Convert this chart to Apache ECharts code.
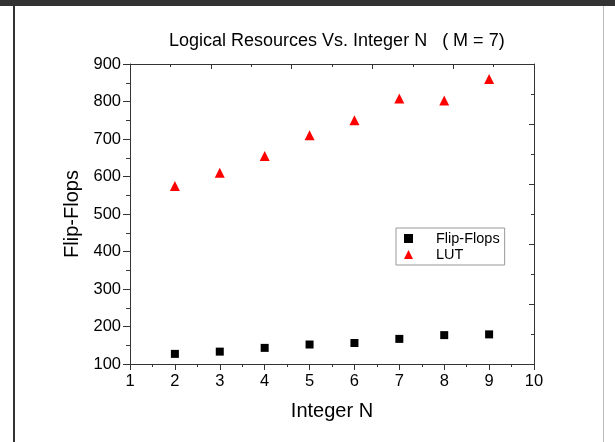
<!DOCTYPE html>
<html>
<head>
<meta charset="utf-8">
<script src="https://cdn.jsdelivr.net/npm/echarts@6/dist/echarts.min.js"></script>
<style>
  html, body { margin: 0; padding: 0; background: #fff; }
  #chart { width: 615px; height: 442px; }
</style>
</head>
<body>
<div id="chart"></div>
<script>
// 数据
const nValues = [2, 3, 4, 5, 6, 7, 8, 9];
const flipFlops = [127, 133, 143, 152, 156, 167, 177, 179];
const lut = [575, 610, 655, 710, 750, 808, 803, 860];
const xTicks = [1, 2, 3, 4, 5, 6, 7, 8, 9, 10];
const yTicks = [100, 200, 300, 400, 500, 600, 700, 800, 900];

const font = 'Liberation Sans, Arial, sans-serif';
const chart = echarts.init(document.getElementById('chart'));

const pairs = (ys) => nValues.map((n, i) => [n, ys[i]]);

// 上/右 装饰坐标轴 (10 等分)
const frameAxis = (pos) => ({
    position: pos,
    type: 'value',
    min: 0,
    max: 10,
    interval: 2,
    axisLine: { show: true, onZero: false, lineStyle: { color: '#333', width: 1 } },
    axisTick: { show: true, inside: true, length: 5, lineStyle: { color: '#333' } },
    minorTick: { show: true, splitNumber: 2, length: 3, lineStyle: { color: '#333' } },
    axisLabel: { show: false },
    splitLine: { show: false }
});

const option = {
    animation: false,
    textStyle: { fontFamily: font },
    title: {
        text: 'Logical Resources Vs. Integer N   ( M = 7)',
        left: 164,
        top: 27,
        textStyle: { fontSize: 18, fontWeight: 'normal', color: '#000', fontFamily: font }
    },
    grid: { left: 130, top: 64, right: 81, bottom: 78 },
    legend: {
        orient: 'vertical',
        left: 396,
        top: 228,
        padding: [3, 5, 3, 8],
        itemGap: 1,
        itemWidth: 9,
        itemHeight: 9,
        borderColor: '#999',
        borderWidth: 1,
        textStyle: { fontSize: 14.5, color: '#000', fontFamily: font, padding: [0, 0, 0, 18] },
        data: [
            { name: 'Flip-Flops', icon: 'rect' },
            { name: 'LUT', icon: 'triangle' }
        ]
    },
    xAxis: [
        {
            type: 'value',
            position: 'bottom',
            min: xTicks[0],
            max: xTicks[xTicks.length - 1],
            interval: 1,
            name: 'Integer N',
            nameLocation: 'middle',
            nameGap: 37,
            nameTextStyle: { fontSize: 20, color: '#000', fontFamily: font },
            axisLine: { show: true, onZero: false, lineStyle: { color: '#333' } },
            axisTick: { show: true, length: 6, lineStyle: { color: '#333' } },
            minorTick: { show: true, splitNumber: 2, length: 3, lineStyle: { color: '#333' } },
            axisLabel: { fontSize: 16.5, color: '#000', margin: 9, fontFamily: font },
            splitLine: { show: false }
        },
        frameAxis('top')
    ],
    yAxis: [
        {
            type: 'value',
            position: 'left',
            min: yTicks[0],
            max: yTicks[yTicks.length - 1],
            interval: 100,
            name: 'Flip-Flops',
            nameLocation: 'middle',
            nameGap: 42,
            nameTextStyle: { fontSize: 20, color: '#000', fontFamily: font },
            axisLine: { show: true, onZero: false, lineStyle: { color: '#333' } },
            axisTick: { show: true, length: 7, lineStyle: { color: '#333' } },
            minorTick: { show: true, splitNumber: 2, length: 4, lineStyle: { color: '#333' } },
            axisLabel: { fontSize: 16.5, color: '#000', margin: 9, fontFamily: font },
            splitLine: { show: false }
        },
        frameAxis('right')
    ],
    graphic: [
        { type: 'rect', shape: { x: 0, y: 0, width: 615, height: 6 }, style: { fill: '#333' }, silent: true },
        { type: 'rect', shape: { x: 13, y: 0, width: 2, height: 442 }, style: { fill: '#333' }, silent: true },
        { type: 'rect', shape: { x: 603, y: 6, width: 1, height: 436 }, style: { fill: '#bbb' }, silent: true }
    ],
    series: [
        {
            name: 'Flip-Flops',
            type: 'scatter',
            xAxisIndex: 0,
            yAxisIndex: 0,
            symbol: 'rect',
            symbolSize: 8,
            itemStyle: { color: '#000', opacity: 1 },
            data: pairs(flipFlops)
        },
        {
            name: 'LUT',
            type: 'scatter',
            xAxisIndex: 0,
            yAxisIndex: 0,
            symbol: 'triangle',
            symbolSize: 10,
            itemStyle: { color: '#f00', opacity: 1 },
            data: pairs(lut)
        }
    ]
};

chart.setOption(option);
</script>
</body>
</html>
